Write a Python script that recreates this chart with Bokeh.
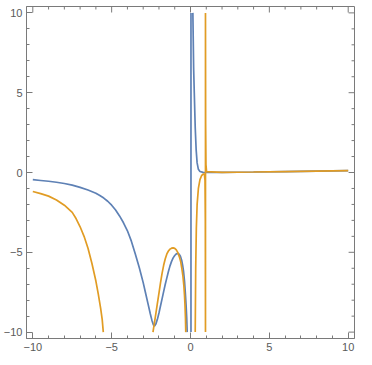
from bokeh.plotting import figure
from bokeh.models import Range1d, FixedTicker, LinearAxis
from bokeh.embed import file_html
from bokeh.resources import INLINE

NAN = float("nan")

# Blue series (clipped at the plot range, NaN = gap)
blue_x = [-10, -9.5, -9, -8.5, -8, -7.5, -7, -6.5, -6, -5.75, -5.5, -5.25, -5, -4.75, -4.5,
          -4.25, -4, -3.75, -3.5, -3.25, -3, -2.85, -2.7, -2.55, -2.45, -2.35, -2.28, -2.2,
          -2.1, -2.0, -1.9, -1.8, -1.7, -1.6, -1.5, -1.4, -1.3, -1.2, -1.1, -1.0, -0.9, -0.8,
          -0.72, -0.64, -0.56, -0.5, -0.44, -0.38, -0.33, -0.28, -0.24, -0.21,
          NAN,
          0.03, 0.03,
          NAN,
          0.15, 0.2, 0.24, 0.3, 0.36, 0.42, 0.5, 0.6, 0.8, 1, 2, 4, 6, 8, 10]
blue_y = [-0.45, -0.5, -0.55, -0.61, -0.69, -0.79, -0.93, -1.1, -1.3, -1.44, -1.6, -1.8,
          -2.05, -2.35, -2.72, -3.15, -3.65, -4.3, -5.1, -5.95, -6.9, -7.55, -8.2, -8.85, -9.25,
          -9.55, -9.62, -9.5, -9.2, -8.8, -8.35, -7.9, -7.45, -7.0, -6.6, -6.2, -5.85, -5.57,
          -5.35, -5.2, -5.1, -5.07, -5.12, -5.25, -5.5, -5.8, -6.2, -6.8, -7.5, -8.3, -9.1, -10,
          NAN,
          -10, 10,
          NAN,
          10, 6.5, 5, 2.8, 1.4, 0.6, 0.2, 0.06, 0.01, 0.0, 0.01, 0.03, 0.06, 0.09, 0.12]

# Orange series
orange_x = [-10, -9.5, -9, -8.5, -8, -7.5, -7.25, -7, -6.75, -6.5, -6.25, -6, -5.85, -5.7,
            -5.6, -5.53,
            NAN,
            -2.38, -2.3, -2.2, -2.1, -2.0, -1.9, -1.8, -1.7, -1.6, -1.5, -1.4, -1.3, -1.2, -1.1,
            -1.0, -0.9, -0.8, -0.7, -0.62, -0.55, -0.48, -0.42, -0.38, -0.35, -0.32, -0.3,
            NAN,
            0.3, 0.33, 0.37, 0.42, 0.5, 0.6, 0.7, 0.8, 0.88, 0.92, 0.94, 0.95, 0.95, 0.96,
            0.98, 1.02, 2, 4, 6, 8, 10]
orange_y = [-1.19, -1.32, -1.48, -1.72, -2.05, -2.5, -2.9, -3.4, -4.0, -4.75, -5.7, -6.8,
            -7.6, -8.5, -9.2, -10,
            NAN,
            -10, -9.5, -8.85, -8.2, -7.55, -6.9, -6.3, -5.8, -5.4, -5.1, -4.92, -4.8, -4.74,
            -4.72, -4.75, -4.85, -5.02, -5.3, -5.6, -6.0, -6.5, -7.1, -7.7, -8.3, -9.1, -10,
            NAN,
            -10, -6, -3.5, -2.0, -1.0, -0.45, -0.2, -0.1, -0.1, -0.5, -3, -10, 10, 3,
            0.5, 0.05, 0.01, 0.03, 0.06, 0.09, 0.12]

major_ticks = [-10, -5, 0, 5, 10]
minor_ticks = [v for v in range(-10, 11)]
tick_labels = {-10: "\u221210", -5: "\u22125", 0: "0", 5: "5", 10: "10"}

BLUE = "#5E81B5"
ORANGE = "#E19C24"
FRAME = "#7a7a7a"
LABEL = "#5a5a5a"

LO, HI = -10.4, 10.4
FW, FH = 334, 332   # frame size in pixels given the borders below
MAJ, MIN = 6, 3

p = figure(width=372, height=365, output_backend="svg", toolbar_location=None,
           x_range=Range1d(LO, HI), y_range=Range1d(LO, HI),
           x_axis_location=None, y_axis_location=None,
           min_border_left=20, min_border_right=18, min_border_top=6, min_border_bottom=27)
p.background_fill_color = "white"
p.border_fill_color = "white"
p.outline_line_color = FRAME
p.outline_line_width = 1
p.grid.visible = False

ticker = FixedTicker(ticks=major_ticks, minor_ticks=minor_ticks)

def make_axis():
    ax = LinearAxis(ticker=ticker)
    ax.axis_line_color = FRAME
    ax.major_tick_line_color = FRAME
    ax.minor_tick_line_color = FRAME
    ax.major_tick_in = MAJ
    ax.major_tick_out = 0
    ax.minor_tick_in = MIN
    ax.minor_tick_out = 0
    ax.major_label_overrides = tick_labels
    ax.major_label_text_font = "Liberation Sans"
    ax.major_label_text_font_size = "11px"
    ax.major_label_text_color = LABEL
    ax.major_label_standoff = 4
    return ax

p.add_layout(make_axis(), "left")
p.add_layout(make_axis(), "below")

# inward ticks on the top and right frame edges
dy_maj = MAJ * (HI - LO) / FH
dy_min = MIN * (HI - LO) / FH
dx_maj = MAJ * (HI - LO) / FW
dx_min = MIN * (HI - LO) / FW
minor_only = [t for t in minor_ticks if t not in major_ticks]
p.segment(x0=major_ticks, y0=[HI] * len(major_ticks), x1=major_ticks,
          y1=[HI - dy_maj] * len(major_ticks), line_color=FRAME, line_width=1)
p.segment(x0=minor_only, y0=[HI] * len(minor_only), x1=minor_only,
          y1=[HI - dy_min] * len(minor_only), line_color=FRAME, line_width=1)
p.segment(x0=[HI] * len(major_ticks), y0=major_ticks, x1=[HI - dx_maj] * len(major_ticks),
          y1=major_ticks, line_color=FRAME, line_width=1)
p.segment(x0=[HI] * len(minor_only), y0=minor_only, x1=[HI - dx_min] * len(minor_only),
          y1=minor_only, line_color=FRAME, line_width=1)

p.line(blue_x, blue_y, line_color=BLUE, line_width=1.7)
p.line(orange_x, orange_y, line_color=ORANGE, line_width=1.7)

open("out.html", "w").write(file_html(p, INLINE))
